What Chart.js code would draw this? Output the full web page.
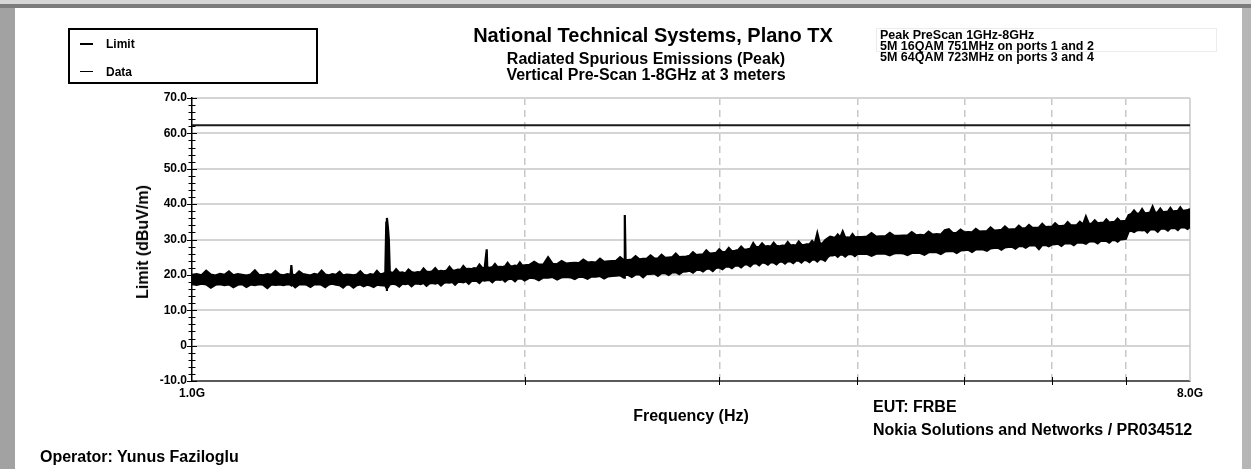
<!DOCTYPE html>
<html>
<head>
<meta charset="utf-8">
<title>Radiated Spurious Emissions (Peak)</title>
<script src="https://cdn.jsdelivr.net/npm/chart.js@4.4.1/dist/chart.umd.min.js"></script>
<style>
  html, body { margin: 0; padding: 0; }
  body {
    width: 1251px; height: 469px; overflow: hidden; position: relative; background: #fff;
    font-family: "Liberation Sans", Arial, sans-serif; font-weight: bold; color: #000;
  }
  .abs { position: absolute; white-space: nowrap; }
  #area { position: absolute; left: 0; top: 0; width: 1251px; height: 469px; }
</style>
</head>
<body>
<!-- window frame -->
<div class="abs" style="left:0;top:0;width:1251px;height:4px;background:#d6d6d6"></div>
<div class="abs" style="left:0;top:4px;width:1251px;height:4px;background:#7c7c7c"></div>
<div class="abs" style="left:0;top:8px;width:15px;height:461px;background:#a2a2a2"></div>
<div class="abs" style="left:1242px;top:8px;width:9px;height:461px;background:#b6b6b6"></div>

<div id="area"><canvas id="grafico"></canvas></div>

<!-- legend -->
<div class="abs" style="left:68px;top:28px;width:250px;height:56px;border:2px solid #000;box-sizing:border-box">
  <div class="abs" style="left:10px;top:13px;width:13px;height:2px;background:#000"></div>
  <div class="abs" style="left:36px;top:8px;font-size:12px;line-height:12px">Limit</div>
  <div class="abs" style="left:10px;top:41px;width:13px;height:1px;background:#000"></div>
  <div class="abs" style="left:36px;top:36px;font-size:12px;line-height:12px">Data</div>
</div>

<!-- titles -->
<div class="abs" style="left:653px;top:25px;font-size:20px;line-height:20px;transform:translateX(-50%)">National Technical Systems, Plano TX</div>
<div class="abs" style="left:646px;top:51px;font-size:16px;line-height:16px;text-align:center;transform:translateX(-50%)">Radiated Spurious Emissions (Peak)<br>Vertical Pre-Scan 1-8GHz at 3 meters</div>

<div class="abs" style="left:876px;top:28px;width:341px;height:24px;border:1px solid #ececec;box-sizing:border-box"></div>
<div class="abs" style="left:880px;top:29.5px;font-size:12.5px;line-height:11px">Peak PreScan 1GHz-8GHz<br>5M 16QAM 751MHz on ports 1 and 2<br>5M 64QAM 723MHz on ports 3 and 4</div>

<div class="abs" style="left:143px;top:242px;font-size:16px;line-height:16px;transform:translate(-50%,-50%) rotate(-90deg)">Limit (dBuV/m)</div>

<div class="abs" style="left:873px;top:399px;font-size:16px;line-height:16px">EUT: FRBE</div>
<div class="abs" style="left:873px;top:422px;font-size:16px;line-height:16px">Nokia Solutions and Networks / PR034512</div>
<div class="abs" style="left:40px;top:449px;font-size:16px;line-height:16px">Operator: Yunus Faziloglu</div>

<script>
// sweep points (MHz) with the peak trace read as upper / lower edge of the band
const freqMHz = [
  1000, 1010, 1020, 1030, 1040, 1050, 1060, 1070, 1080, 1090,
  1100, 1110, 1120, 1130, 1140, 1150, 1160, 1170, 1180, 1190,
  1200, 1210, 1220, 1228, 1230, 1232, 1240, 1250, 1260, 1270, 1280, 1290,
  1300, 1310, 1320, 1330, 1340, 1350, 1360, 1370, 1380, 1390,
  1400, 1410, 1420, 1430, 1440, 1450, 1460, 1470, 1480, 1490,
  1496, 1499, 1501, 1504, 1507, 1510, 1520, 1530, 1540, 1550, 1560, 1570, 1580, 1590,
  1600, 1610, 1620, 1630, 1640, 1650, 1660, 1670, 1680, 1690,
  1700, 1710, 1720, 1730, 1740, 1750, 1760, 1770, 1780, 1790,
  1800, 1810, 1820, 1830, 1840, 1848, 1850, 1860, 1870, 1880, 1890,
  1900, 1910, 1920, 1930, 1940, 1950, 1960, 1970, 1980, 1990, 2000,
  2020, 2040, 2060, 2080, 2100, 2120, 2140, 2160, 2180, 2200,
  2220, 2240, 2260, 2280, 2300, 2320, 2340, 2360, 2380, 2400,
  2420, 2440, 2460, 2464, 2468, 2480, 2500, 2520, 2540, 2560, 2580, 2600,
  2620, 2640, 2660, 2680, 2700, 2720, 2740, 2760, 2780, 2800,
  2820, 2840, 2860, 2880, 2900, 2920, 2940, 2960, 2980, 3000,
  3020, 3040, 3060, 3080, 3100, 3120, 3140, 3160, 3180, 3200,
  3220, 3240, 3260, 3280, 3300, 3320, 3340, 3360, 3380, 3400,
  3420, 3440, 3460, 3480, 3500, 3520, 3540, 3560, 3580, 3600,
  3620, 3640, 3660, 3680, 3700, 3720, 3740, 3760, 3780, 3800,
  3820, 3840, 3860, 3880, 3900, 3920, 3940, 3960, 3980, 4000,
  4040, 4080, 4120, 4160, 4200, 4240, 4280, 4320, 4360, 4400,
  4440, 4480, 4520, 4560, 4600, 4640, 4680, 4720, 4760, 4800,
  4840, 4880, 4920, 4960, 5000, 5040, 5080, 5120, 5160, 5200,
  5240, 5280, 5320, 5360, 5400, 5440, 5480, 5520, 5560, 5600,
  5640, 5680, 5720, 5760, 5800, 5840, 5880, 5920, 5960, 6000,
  6040, 6080, 6120, 6160, 6200, 6240, 6280, 6320, 6360, 6400,
  6440, 6480, 6520, 6560, 6600, 6640, 6680, 6720, 6760, 6800,
  6840, 6880, 6920, 6960, 7000, 7040, 7080, 7120, 7160, 7200,
  7240, 7280, 7320, 7360, 7400, 7440, 7480, 7520, 7560, 7600,
  7640, 7680, 7720, 7760, 7800, 7840, 7880, 7920, 7960, 8000,
];

const dataUpper = [
  20.0, 20.2, 19.9, 21.2, 20.1, 19.8, 20.3, 20.0, 21.0, 19.9,
  20.2, 20.0, 19.8, 20.1, 21.3, 20.0, 19.9, 20.2, 20.0, 21.1,
  20.1, 19.9, 20.2, 20.0, 22.8, 20.1, 19.9, 21.0, 20.2, 20.0, 19.8, 20.3,
  20.0, 21.2, 20.1, 19.9, 20.2, 20.0, 20.9, 19.8, 20.1, 20.0,
  19.9, 20.1, 21.0, 20.0, 19.8, 20.2, 20.0, 21.1, 20.1, 20.4,
  20.6, 34.8, 36.1, 33.5, 30.0, 20.8, 20.5, 21.6, 20.6, 20.7, 20.4, 21.5, 20.8, 20.6,
  20.8, 20.7, 21.8, 20.9, 20.8, 21.0, 21.9, 20.9, 21.1, 21.0,
  21.2, 22.3, 21.3, 21.2, 21.5, 21.4, 22.5, 21.6, 21.7, 21.6,
  21.9, 21.8, 22.9, 22.0, 21.9, 27.2, 22.1, 22.0, 22.2, 23.1, 22.2,
  22.3, 22.2, 22.4, 23.4, 22.5, 22.4, 22.6, 22.5, 23.5, 22.6, 22.7,
  22.8, 23.7, 22.9, 23.0, 25.0, 23.1, 23.0, 23.9, 23.2, 23.3,
  23.4, 23.3, 24.3, 23.5, 23.6, 23.5, 24.6, 23.7, 23.8, 23.9,
  24.0, 25.0, 24.1, 36.9, 24.2, 24.2, 24.3, 25.3, 24.4, 24.5, 24.6, 25.5,
  24.7, 24.6, 25.7, 24.8, 24.9, 25.0, 26.0, 25.0, 25.1, 25.2,
  25.4, 26.4, 25.6, 25.7, 25.8, 26.9, 26.0, 26.1, 26.2, 27.2,
  26.4, 26.5, 27.6, 26.7, 26.8, 27.0, 28.0, 27.1, 27.2, 27.4,
  29.0, 27.8, 27.9, 28.9, 28.0, 28.1, 28.0, 29.1, 28.2, 28.1,
  28.3, 28.2, 29.3, 28.3, 28.4, 28.3, 29.4, 28.5, 28.4, 28.6,
  28.6, 29.6, 28.7, 31.8, 28.8, 28.9, 29.8, 30.3, 30.8, 30.6,
  30.5, 31.4, 30.6, 32.3, 30.5, 30.6, 30.5, 31.5, 30.6, 30.7,
  30.7, 30.8, 31.8, 30.8, 30.9, 30.9, 31.9, 31.0, 31.0, 31.1,
  31.1, 32.1, 31.2, 31.3, 31.2, 32.2, 31.4, 31.5, 31.4, 32.6,
  32.9, 31.8, 31.9, 32.8, 32.0, 32.1, 32.0, 33.0, 32.2, 32.3,
  32.4, 33.4, 32.5, 32.6, 32.7, 33.7, 32.8, 32.9, 32.9, 33.9,
  33.1, 33.2, 34.1, 33.3, 33.3, 33.4, 34.4, 33.5, 33.6, 33.6,
  34.6, 33.8, 33.8, 33.9, 34.9, 34.0, 34.0, 34.1, 35.0, 34.2,
  36.5, 34.4, 34.5, 35.4, 34.6, 34.7, 34.7, 35.7, 34.8, 34.9,
  35.0, 35.9, 35.1, 35.2, 35.3, 36.9, 37.2, 38.2, 37.3, 37.4,
  38.6, 37.4, 37.5, 37.6, 39.3, 37.6, 37.7, 38.7, 37.7, 37.8,
  37.9, 38.9, 37.9, 38.0, 38.1, 39.1, 38.1, 38.2, 38.3, 38.6,
];

const dataLower = [
  17.4, 17.2, 17.5, 17.3, 16.4, 17.2, 17.4, 17.1, 17.3, 16.5,
  17.2, 17.4, 16.6, 17.3, 17.1, 17.4, 17.2, 16.3, 17.3, 17.2,
  17.3, 17.1, 17.4, 17.2, 17.0, 17.3, 16.5, 17.3, 17.4, 17.2, 16.6, 17.3,
  17.4, 17.2, 16.5, 17.3, 17.5, 17.2, 17.1, 16.4, 17.3, 17.2,
  16.4, 17.1, 17.3, 16.8, 17.2, 17.0, 16.6, 17.2, 17.1, 17.0,
  17.0, 16.4, 16.2, 16.5, 16.9, 17.3, 17.5, 17.3, 16.7, 17.5, 17.4, 17.6, 16.8, 17.5,
  17.6, 17.4, 17.7, 16.9, 17.6, 17.7, 17.5, 17.8, 17.0, 17.7,
  17.9, 17.8, 18.0, 17.2, 18.0, 18.1, 17.9, 18.2, 17.5, 18.3,
  18.4, 18.3, 17.7, 18.5, 18.4, 18.5, 18.6, 18.5, 17.9, 18.6, 18.7,
  18.6, 18.8, 18.1, 18.7, 18.9, 18.8, 18.2, 18.9, 19.0, 18.9, 18.4,
  19.2, 19.1, 18.5, 19.3, 19.2, 19.4, 18.7, 19.3, 19.4, 19.3,
  18.8, 19.5, 19.4, 18.9, 19.6, 19.5, 19.7, 19.0, 19.6, 19.7,
  19.8, 19.9, 19.2, 19.9, 20.0, 20.0, 19.4, 20.1, 20.2, 19.3, 20.3, 20.3,
  20.4, 19.7, 20.5, 20.5, 20.0, 20.7, 20.8, 20.2, 20.9, 21.0,
  21.2, 20.6, 21.4, 21.5, 21.0, 21.7, 21.8, 21.1, 22.0, 22.1,
  21.6, 22.3, 22.4, 21.9, 22.6, 22.7, 22.1, 22.9, 23.0, 22.4,
  23.2, 23.3, 22.7, 23.5, 23.4, 22.9, 23.6, 23.5, 23.0, 23.7,
  23.8, 23.2, 23.9, 23.8, 23.3, 24.0, 24.1, 23.5, 24.2, 24.1,
  23.6, 24.3, 24.4, 23.8, 24.5, 24.4, 24.0, 25.0, 25.6, 25.5,
  25.7, 25.1, 25.8, 25.7, 25.2, 25.8, 25.9, 25.8, 25.3, 25.9,
  25.9, 26.0, 25.4, 26.0, 26.1, 26.0, 25.5, 26.1, 26.2, 26.1,
  25.6, 26.2, 26.3, 26.2, 25.7, 26.4, 26.5, 26.4, 25.9, 26.6,
  26.7, 26.8, 26.2, 26.9, 27.0, 27.1, 26.5, 27.2, 27.3, 27.2,
  26.8, 27.5, 27.6, 27.7, 27.1, 27.8, 27.9, 28.0, 27.4, 28.1,
  28.2, 27.7, 28.3, 28.4, 28.3, 27.3, 28.4, 28.5, 28.1, 28.6,
  28.7, 28.8, 28.2, 28.9, 29.0, 28.9, 28.4, 29.1, 29.2, 29.1,
  28.8, 29.4, 29.5, 29.4, 28.9, 29.6, 29.7, 29.6, 29.1, 29.8,
  29.9, 29.4, 30.0, 30.1, 30.2, 32.3, 32.5, 32.1, 32.6, 32.7,
  32.6, 32.7, 32.0, 32.8, 32.9, 32.8, 32.2, 33.0, 33.1, 33.0,
  32.5, 33.2, 33.3, 33.2, 32.7, 33.4, 33.5, 33.4, 33.0, 33.6,
];

const limitFreq = [1000, 8000];
const limitLevel = [62.3, 62.3];

const xTickValues = [1000, 2000, 3000, 4000, 5000, 6000, 7000, 8000];
const xTickLabels = ["1.0G", "", "", "", "", "", "", "8.0G"];
const yMajorTicks = [-10, 0, 10, 20, 30, 40, 50, 60, 70];
const yMajorLabels = ["-10.0", "0", "10.0", "20.0", "30.0", "40.0", "50.0", "60.0", "70.0"];

function pontos(xs, ys) {
  return xs.map((x, i) => ({ x: x, y: ys[i] }));
}

// tick marks crossing the axes and the light right-hand frame of the plot
const marcasEixo = {
  id: "marcasEixo",
  beforeDatasetsDraw(chart) {
    const { ctx, chartArea } = chart;
    ctx.save();
    ctx.strokeStyle = "#c8c8c8";
    ctx.lineWidth = 1.5;
    ctx.beginPath();
    ctx.moveTo(chartArea.right, chartArea.top);
    ctx.lineTo(chartArea.right, chartArea.bottom);
    ctx.stroke();
    ctx.restore();
  },
  afterDatasetsDraw(chart) {
    const { ctx, chartArea, scales } = chart;
    ctx.save();
    ctx.strokeStyle = "#000";
    ctx.lineWidth = 1;
    scales.y.ticks.forEach((t) => {
      const py = Math.round(scales.y.getPixelForValue(t.value)) + 0.5;
      const len = yMajorTicks.includes(t.value) ? 5 : 3.5;
      ctx.beginPath();
      ctx.moveTo(chartArea.left - len, py);
      ctx.lineTo(chartArea.left + len, py);
      ctx.stroke();
    });
    scales.x.ticks.forEach((t) => {
      if (t.value === limitFreq[0] || t.value === limitFreq[1]) return;
      const px = Math.round(scales.x.getPixelForValue(t.value)) + 0.5;
      ctx.beginPath();
      ctx.moveTo(px, chartArea.bottom - 4);
      ctx.lineTo(px, chartArea.bottom + 4);
      ctx.stroke();
    });
    ctx.restore();
  },
};

function plotarGrafico() {
  Chart.defaults.font.family = '"Liberation Sans", Arial, sans-serif';
  Chart.defaults.font.weight = "bold";
  Chart.defaults.font.size = 12;
  Chart.defaults.color = "#000";

  new Chart(document.getElementById("grafico"), {
    type: "line",
    data: {
      datasets: [
        {
          label: "Limit",
          data: pontos(limitFreq, limitLevel),
          borderColor: "#1a1a1a",
          borderWidth: 2,
          pointRadius: 0,
          fill: false,
        },
        {
          label: "Data",
          data: pontos(freqMHz, dataUpper),
          borderColor: "#000",
          borderWidth: 2.2,
          pointRadius: 0,
          fill: "+1",
          backgroundColor: "#000",
        },
        {
          label: "Data",
          data: pontos(freqMHz, dataLower),
          borderColor: "#000",
          borderWidth: 2.2,
          pointRadius: 0,
          fill: false,
        },
      ],
    },
    options: {
      animation: false,
      responsive: true,
      maintainAspectRatio: false,
      layout: { padding: { left: 134, top: 98, right: 61, bottom: 43 } },
      plugins: {
        legend: { display: false },
        tooltip: { enabled: false },
      },
      scales: {
        x: {
          type: "logarithmic",
          min: 1000,
          max: 8000,
          afterBuildTicks: (eixo) => {
            eixo.ticks = xTickValues.map((v) => ({ value: v }));
          },
          afterFit: (eixo) => {
            eixo.height = 45;
          },
          ticks: {
            autoSkip: false,
            maxRotation: 0,
            padding: 5,
            callback: (v) => {
              const i = xTickValues.indexOf(v);
              return i >= 0 ? xTickLabels[i] : "";
            },
          },
          grid: {
            drawTicks: false,
            lineWidth: 1.5,
            color: (c) =>
              c.tick && (c.tick.value === 1000 || c.tick.value === 8000)
                ? "rgba(0,0,0,0)"
                : "#c8c8c8",
          },
          border: { color: "#5a5a5a", width: 2, dash: [7, 5] },
          title: {
            display: true,
            text: "Frequency (Hz)",
            font: { size: 16, weight: "bold" },
            padding: 0,
          },
        },
        y: {
          min: -10,
          max: 70,
          afterFit: (eixo) => {
            eixo.width = 58;
          },
          ticks: {
            stepSize: 2,
            autoSkip: false,
            maxTicksLimit: 100,
            padding: 5,
            callback: (v) => {
              const i = yMajorTicks.indexOf(v);
              return i >= 0 ? yMajorLabels[i] : "";
            },
          },
          grid: {
            drawTicks: false,
            lineWidth: 2,
            color: (c) =>
              c.tick && yMajorTicks.includes(c.tick.value) ? "#d4d4d4" : "rgba(0,0,0,0)",
          },
          border: { color: "#000", width: 1.5 },
        },
      },
    },
    plugins: [marcasEixo],
  });
}

plotarGrafico();
</script>
</body>
</html>
